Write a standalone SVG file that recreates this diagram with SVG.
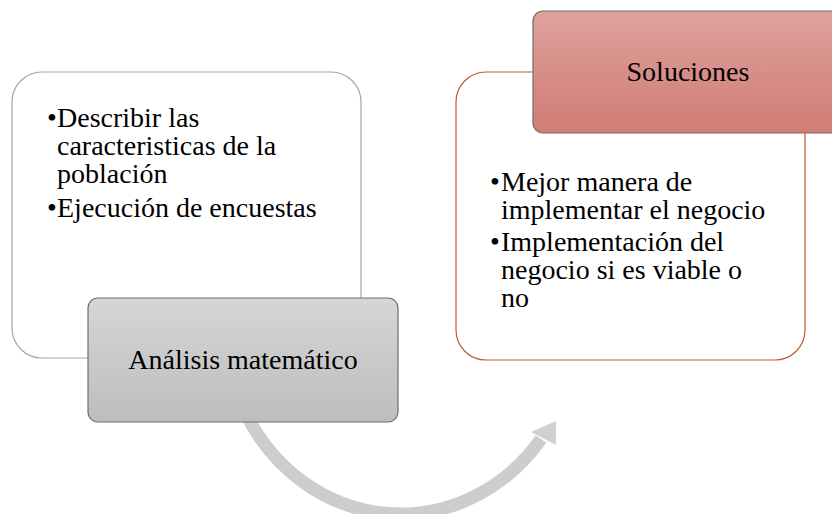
<svg xmlns="http://www.w3.org/2000/svg" width="832" height="514" viewBox="0 0 832 514">
  <defs>
    <linearGradient id="gGray" x1="0" y1="0" x2="0" y2="1">
      <stop offset="0" stop-color="#d6d6d6"/>
      <stop offset="1" stop-color="#bdbdbd"/>
    </linearGradient>
    <linearGradient id="gRed" x1="0" y1="0" x2="0" y2="1">
      <stop offset="0" stop-color="#dfa19c"/>
      <stop offset="1" stop-color="#d07c75"/>
    </linearGradient>
  </defs>
  <rect width="832" height="514" fill="#ffffff"/>

  <g id="connectors">
    <path d="M 248 418 A 176 190 0 0 0 541 439" fill="none" stroke="#cdcdcd" stroke-width="13"/>
    <polygon points="556,421 531,432 556,445" fill="#d0d0d0"/>
  </g>

  <g id="node-describir">
    <rect x="12" y="72" width="349" height="286" rx="30" ry="30" fill="#ffffff" stroke="#a6a6a6" stroke-width="1.2"/>
    <text x="47" y="127" font-family="Liberation Serif, serif" font-size="28">•</text>
    <text x="57" y="127" font-family="Liberation Serif, serif" font-size="28">Describir las</text>
    <text x="57" y="155" font-family="Liberation Serif, serif" font-size="28">caracteristicas de la</text>
    <text x="57" y="183" font-family="Liberation Serif, serif" font-size="28">población</text>
    <text x="47" y="217" font-family="Liberation Serif, serif" font-size="28">•</text>
    <text x="57" y="217" font-family="Liberation Serif, serif" font-size="28">Ejecución de encuestas</text>
  </g>

  <g id="node-analisis">
    <rect x="88" y="298" width="310" height="124" rx="10" ry="10" fill="url(#gGray)" stroke="#6e6e6e" stroke-width="1.2"/>
    <text x="243" y="369" text-anchor="middle" font-family="Liberation Serif, serif" font-size="28">Análisis matemático</text>
  </g>

  <g id="node-mejor">
    <rect x="456" y="72" width="349" height="288" rx="30" ry="30" fill="#ffffff" stroke="#c55a2b" stroke-width="1.2"/>
    <text x="490" y="191" font-family="Liberation Serif, serif" font-size="28">•</text>
    <text x="501" y="191" font-family="Liberation Serif, serif" font-size="28">Mejor manera de</text>
    <text x="501" y="219" font-family="Liberation Serif, serif" font-size="28">implementar el negocio</text>
    <text x="490" y="251" font-family="Liberation Serif, serif" font-size="28">•</text>
    <text x="501" y="251" font-family="Liberation Serif, serif" font-size="28">Implementación del</text>
    <text x="501" y="279" font-family="Liberation Serif, serif" font-size="28">negocio si es viable o</text>
    <text x="501" y="307" font-family="Liberation Serif, serif" font-size="28">no</text>
  </g>

  <g id="node-soluciones">
    <rect x="533" y="11" width="310" height="122" rx="10" ry="10" fill="url(#gRed)" stroke="#6e6e6e" stroke-width="1.2"/>
    <text x="688" y="81" text-anchor="middle" font-family="Liberation Serif, serif" font-size="28">Soluciones</text>
  </g>
</svg>
